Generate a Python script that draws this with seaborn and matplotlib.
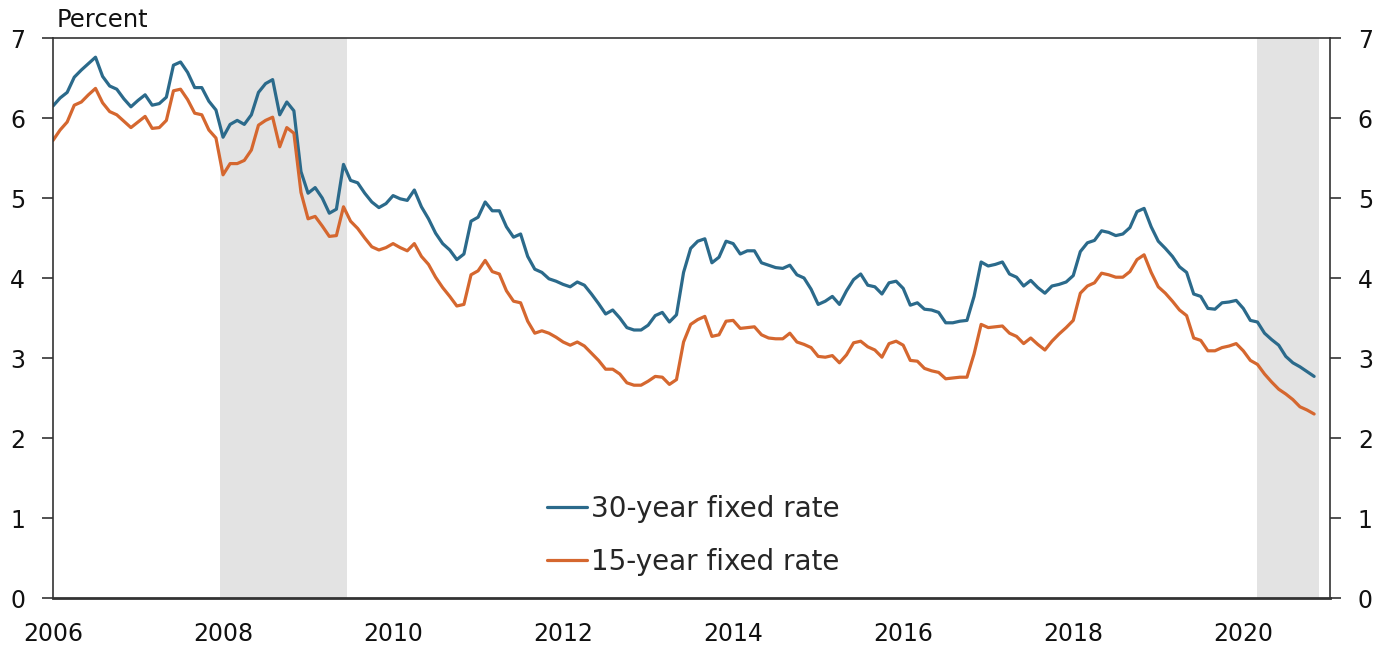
import numpy as np
import pandas as pd
import seaborn as sns
import matplotlib
matplotlib.use("Agg")
import matplotlib.pyplot as plt

# monthly averages, Jan 2006 - Nov 2020
rate_30 = [
    6.15, 6.25, 6.32, 6.51, 6.60, 6.68, 6.76, 6.52, 6.40, 6.36, 6.24, 6.14,  # 2006
    6.22, 6.29, 6.16, 6.18, 6.26, 6.66, 6.70, 6.57, 6.38, 6.38, 6.21, 6.10,  # 2007
    5.76, 5.92, 5.97, 5.92, 6.04, 6.32, 6.43, 6.48, 6.04, 6.20, 6.09, 5.33,  # 2008
    5.06, 5.13, 5.00, 4.81, 4.86, 5.42, 5.22, 5.19, 5.06, 4.95, 4.88, 4.93,  # 2009
    5.03, 4.99, 4.97, 5.10, 4.89, 4.74, 4.56, 4.43, 4.35, 4.23, 4.30, 4.71,  # 2010
    4.76, 4.95, 4.84, 4.84, 4.64, 4.51, 4.55, 4.27, 4.11, 4.07, 3.99, 3.96,  # 2011
    3.92, 3.89, 3.95, 3.91, 3.80, 3.68, 3.55, 3.60, 3.50, 3.38, 3.35, 3.35,  # 2012
    3.41, 3.53, 3.57, 3.45, 3.54, 4.07, 4.37, 4.46, 4.49, 4.19, 4.26, 4.46,  # 2013
    4.43, 4.30, 4.34, 4.34, 4.19, 4.16, 4.13, 4.12, 4.16, 4.04, 4.00, 3.86,  # 2014
    3.67, 3.71, 3.77, 3.67, 3.84, 3.98, 4.05, 3.91, 3.89, 3.80, 3.94, 3.96,  # 2015
    3.87, 3.66, 3.69, 3.61, 3.60, 3.57, 3.44, 3.44, 3.46, 3.47, 3.77, 4.20,  # 2016
    4.15, 4.17, 4.20, 4.05, 4.01, 3.90, 3.97, 3.88, 3.81, 3.90, 3.92, 3.95,  # 2017
    4.03, 4.33, 4.44, 4.47, 4.59, 4.57, 4.53, 4.55, 4.63, 4.83, 4.87, 4.64,  # 2018
    4.46, 4.37, 4.27, 4.14, 4.07, 3.80, 3.77, 3.62, 3.61, 3.69, 3.70, 3.72,  # 2019
    3.62, 3.47, 3.45, 3.31, 3.23, 3.16, 3.02, 2.94, 2.89, 2.83, 2.77,        # 2020
]
rate_15 = [
    5.72, 5.85, 5.95, 6.16, 6.20, 6.29, 6.37, 6.19, 6.08, 6.04, 5.96, 5.88,  # 2006
    5.95, 6.02, 5.87, 5.88, 5.97, 6.34, 6.36, 6.23, 6.06, 6.04, 5.85, 5.75,  # 2007
    5.29, 5.43, 5.43, 5.47, 5.60, 5.91, 5.97, 6.01, 5.64, 5.88, 5.81, 5.07,  # 2008
    4.74, 4.77, 4.65, 4.52, 4.53, 4.89, 4.71, 4.62, 4.50, 4.39, 4.35, 4.38,  # 2009
    4.43, 4.38, 4.34, 4.43, 4.27, 4.17, 4.01, 3.88, 3.77, 3.65, 3.67, 4.04,  # 2010
    4.09, 4.22, 4.08, 4.05, 3.84, 3.71, 3.69, 3.46, 3.31, 3.34, 3.31, 3.26,  # 2011
    3.20, 3.16, 3.20, 3.15, 3.06, 2.97, 2.86, 2.86, 2.80, 2.69, 2.66, 2.66,  # 2012
    2.71, 2.77, 2.76, 2.67, 2.73, 3.20, 3.42, 3.48, 3.52, 3.27, 3.29, 3.46,  # 2013
    3.47, 3.37, 3.38, 3.39, 3.29, 3.25, 3.24, 3.24, 3.31, 3.20, 3.17, 3.13,  # 2014
    3.02, 3.01, 3.03, 2.94, 3.04, 3.19, 3.21, 3.14, 3.10, 3.01, 3.18, 3.21,  # 2015
    3.16, 2.97, 2.96, 2.87, 2.84, 2.82, 2.74, 2.75, 2.76, 2.76, 3.05, 3.42,  # 2016
    3.38, 3.39, 3.40, 3.31, 3.27, 3.18, 3.25, 3.17, 3.10, 3.21, 3.30, 3.38,  # 2017
    3.47, 3.81, 3.90, 3.94, 4.06, 4.04, 4.01, 4.01, 4.08, 4.23, 4.29, 4.07,  # 2018
    3.89, 3.81, 3.71, 3.60, 3.53, 3.25, 3.22, 3.09, 3.09, 3.13, 3.15, 3.18,  # 2019
    3.09, 2.97, 2.92, 2.80, 2.70, 2.61, 2.55, 2.48, 2.39, 2.35, 2.30,        # 2020
]
start_year = 2006
recessions = [(2007.97, 2009.46), (2020.16, 2020.89)]
year_ticks = list(range(2006, 2021, 2))
y_ticks = list(range(0, 8))
series_names = ["30-year fixed rate", "15-year fixed rate"]

t = start_year + np.arange(len(rate_30)) / 12.0
df = pd.concat([
    pd.DataFrame({"year": t, "rate": rate_30, "series": series_names[0]}),
    pd.DataFrame({"year": t, "rate": rate_15, "series": series_names[1]}),
])

sns.set_style("white")
plt.rcParams["font.family"] = ["DejaVu Sans"]

fig = plt.figure(figsize=(13.9, 6.53), dpi=100)
ax = fig.add_axes([53 / 1390, 55 / 653, 1277 / 1390, 560 / 653])

for a, b in recessions:
    ax.axvspan(a, b, color="#e3e3e3", lw=0, zorder=0)

sns.lineplot(data=df, x="year", y="rate", hue="series", ax=ax,
             palette=["#2b6a8b", "#d5672f"], linewidth=2.3, legend=True)

ax.set_xlim(2006, 2021.02)
ax.set_ylim(0, 7)
ax.set_xticks(year_ticks)
ax.set_yticks(y_ticks)
ax.set_xlabel("")
ax.set_ylabel("")
ax.tick_params(axis="both", direction="out", length=8, width=1.2,
               color="#333333", labelsize=17, labelcolor="#111111")
ax.tick_params(axis="y", right=True, labelright=True, left=True, pad=12)
ax.tick_params(axis="x", pad=9)
for s in ax.spines.values():
    s.set_color("#333333")
    s.set_linewidth(1.2)
ax.spines["bottom"].set_linewidth(2)

ax.text(0.003, 1.01, "Percent", transform=ax.transAxes, fontsize=17.5,
        ha="left", va="bottom", color="#111111")

leg = ax.legend(loc="upper left", bbox_to_anchor=(0.378, 0.204), frameon=False,
                fontsize=20, handlelength=1.45, handletextpad=0.15,
                labelspacing=0.9, title=None, borderaxespad=0)
for line in leg.get_lines():
    line.set_linewidth(2.3)

fig.savefig("out.png", dpi=100)
